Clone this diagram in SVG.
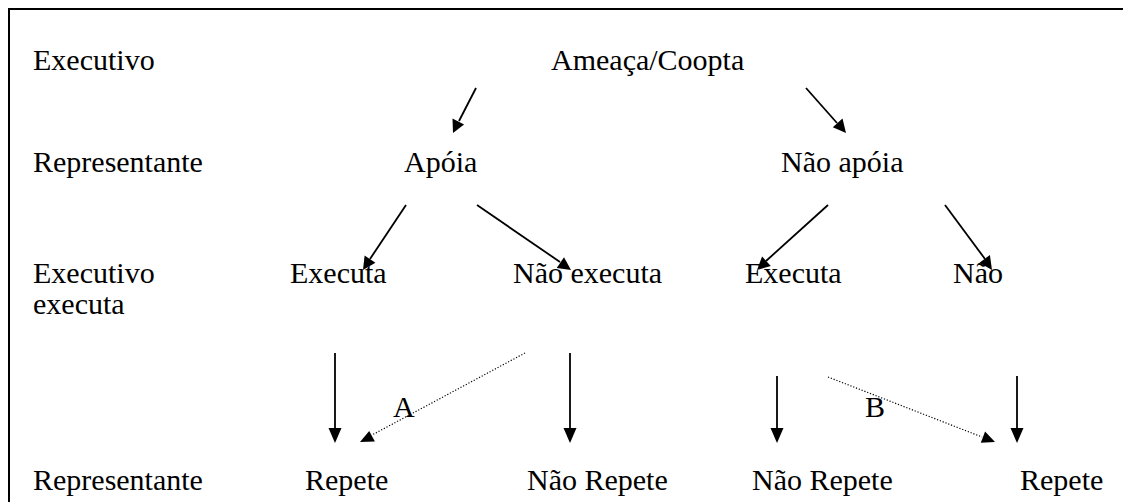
<svg xmlns="http://www.w3.org/2000/svg" width="1123" height="502" viewBox="0 0 1123 502" font-family="Liberation Serif, serif">
<rect width="1123" height="502" fill="#fff"/>
<path d="M9,502 V9 H1123" stroke="#000" stroke-width="2" fill="none"/>
<g id="labels">
<text x="33" y="70" font-family="Liberation Serif" font-size="30">Executivo</text>
<text x="33" y="172" font-family="Liberation Serif" font-size="30">Representante</text>
<text x="33" y="283" font-family="Liberation Serif" font-size="30">Executivo</text>
<text x="33" y="314" font-family="Liberation Serif" font-size="30">executa</text>
<text x="33" y="490" font-family="Liberation Serif" font-size="30">Representante</text>
</g>
<g id="n-ameaca"><text x="551" y="70" font-family="Liberation Serif" font-size="30">Ameaça/Coopta</text></g>
<g id="n-apoia"><text x="404" y="172" font-family="Liberation Serif" font-size="30">Apóia</text></g>
<g id="n-naoapoia"><text x="781" y="172" font-family="Liberation Serif" font-size="30">Não apóia</text></g>
<g id="n-executa1"><text x="290" y="283" font-family="Liberation Serif" font-size="30">Executa</text></g>
<g id="n-naoexecuta"><text x="513" y="283" font-family="Liberation Serif" font-size="30">Não executa</text></g>
<g id="n-executa2"><text x="745" y="283" font-family="Liberation Serif" font-size="30">Executa</text></g>
<g id="n-nao"><text x="953" y="283" font-family="Liberation Serif" font-size="30">Não</text></g>
<g id="n-repete1"><text x="305" y="490" font-family="Liberation Serif" font-size="30">Repete</text></g>
<g id="n-naorepete1"><text x="527" y="490" font-family="Liberation Serif" font-size="30">Não Repete</text></g>
<g id="n-naorepete2"><text x="752" y="490" font-family="Liberation Serif" font-size="30">Não Repete</text></g>
<g id="n-repete2"><text x="1020" y="490" font-family="Liberation Serif" font-size="30">Repete</text></g>
<g id="connectors">
<g stroke="#000" stroke-width="1.8">
<line x1="476" y1="88" x2="459" y2="121"/>
<line x1="806" y1="88" x2="837" y2="123"/>
<line x1="406" y1="205" x2="370" y2="259"/>
<line x1="477" y1="205" x2="560" y2="262"/>
<line x1="828" y1="205" x2="766" y2="261"/>
<line x1="945" y1="205" x2="985" y2="259"/>
<line x1="335" y1="353" x2="335" y2="429"/>
<line x1="570" y1="353" x2="570" y2="429"/>
<line x1="777" y1="376" x2="777" y2="429"/>
<line x1="1017" y1="376" x2="1017" y2="429"/>
</g>
<g stroke="#000" stroke-width="1.2" stroke-dasharray="1.2 1.8">
<line x1="525" y1="353" x2="372" y2="435"/>
<line x1="828" y1="377" x2="982" y2="437"/>
</g>
<g fill="#000">
<polygon points="453,133 452.5,118.6 464.1,124.5"/>
<polygon points="846,133 832.8,127.2 842.5,118.6"/>
<polygon points="363,270 364.6,255.6 375.4,262.8"/>
<polygon points="571,270 556.7,267.9 564,257.2"/>
<polygon points="757,270 762.1,256.4 770.8,266.1"/>
<polygon points="992,270 979.5,262.8 989.9,255"/>
<polygon points="335,443 328.5,428 341.5,428"/>
<polygon points="570,443 563.5,428 576.5,428"/>
<polygon points="777,443 770.5,428 783.5,428"/>
<polygon points="1017,443 1010.5,428 1023.5,428"/>
<polygon points="360,442 369.2,430.9 374.9,441.4"/>
<polygon points="995,442 980.8,442.7 985.1,431.6"/>
</g>
<text x="393" y="417" font-family="Liberation Serif" font-size="30">A</text>
<text x="865" y="417" font-family="Liberation Serif" font-size="30">B</text>
</g>
</svg>
